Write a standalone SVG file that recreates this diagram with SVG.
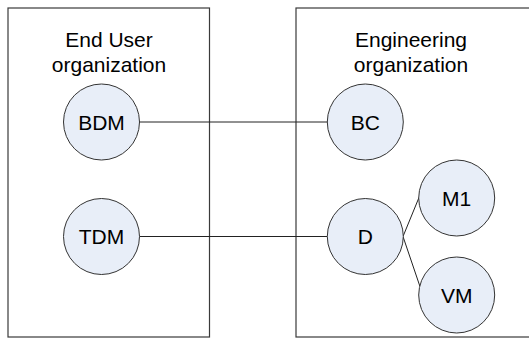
<svg xmlns="http://www.w3.org/2000/svg" width="529" height="340" viewBox="0 0 529 340">
  <style>
    .org { fill: #ffffff; stroke: #3a3a3a; stroke-width: 1.2; }
    .node { fill: #e8eef8; stroke: #333333; stroke-width: 1; }
    .title { font-family: "Liberation Sans", Arial, sans-serif; font-size: 21px; fill: #000000; text-anchor: middle; }
    .label { font-family: "Liberation Sans", Arial, sans-serif; font-size: 21px; fill: #000000; text-anchor: middle; }
    .link { fill: none; stroke: #222222; stroke-width: 1; }
  </style>
  <rect width="529" height="340" fill="#ffffff"/>

  <!-- organization containers -->
  <g id="end-user-org">
    <rect class="org" x="8" y="8" width="201.5" height="329"/>
    <text class="title" x="109" y="46.5">End User</text>
    <text class="title" x="109" y="71.5">organization</text>
  </g>
  <g id="engineering-org">
    <rect class="org" x="296" y="8" width="234" height="329"/>
    <text class="title" x="411" y="46.5">Engineering</text>
    <text class="title" x="411" y="71.5">organization</text>
  </g>

  <!-- connectors -->
  <g id="connectors">
    <line class="link" x1="139.5" y1="122" x2="327.5" y2="122"/>
    <line class="link" x1="139.5" y1="236.5" x2="327.5" y2="236.5"/>
    <line class="link" x1="403" y1="236.5" x2="419" y2="197.5"/>
    <line class="link" x1="403" y1="236.5" x2="419.8" y2="286"/>
  </g>

  <!-- role nodes -->
  <g id="BDM">
    <circle class="node" cx="101.5" cy="122" r="38"/>
    <text class="label" x="101.5" y="129.5">BDM</text>
  </g>
  <g id="TDM">
    <circle class="node" cx="101.5" cy="236.5" r="38"/>
    <text class="label" x="101.5" y="244">TDM</text>
  </g>
  <g id="BC">
    <circle class="node" cx="365.3" cy="122" r="38"/>
    <text class="label" x="365.3" y="129.5">BC</text>
  </g>
  <g id="D">
    <circle class="node" cx="365.3" cy="236.5" r="38"/>
    <text class="label" x="365.3" y="244">D</text>
  </g>
  <g id="M1">
    <circle class="node" cx="456.7" cy="198" r="38"/>
    <text class="label" x="456.7" y="205.5">M1</text>
  </g>
  <g id="VM">
    <circle class="node" cx="456.7" cy="295" r="38"/>
    <text class="label" x="456.7" y="302.5">VM</text>
  </g>
</svg>
